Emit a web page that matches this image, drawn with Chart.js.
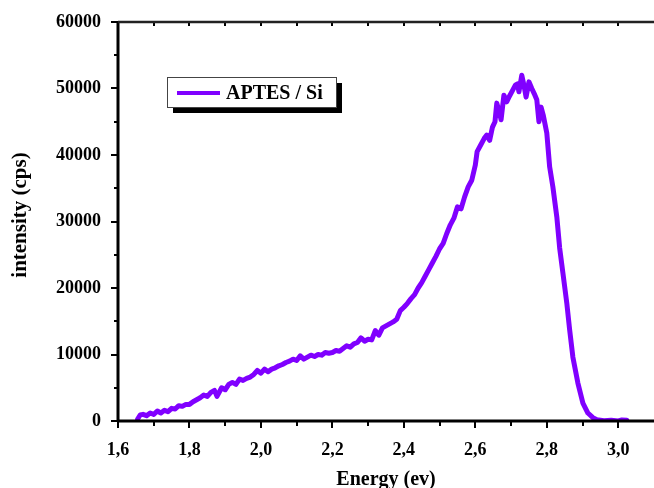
<!DOCTYPE html>
<html>
<head>
<meta charset="utf-8">
<script src="https://cdn.jsdelivr.net/npm/chart.js@4.4.1/dist/chart.umd.min.js"></script>
<style>
  html, body { margin: 0; padding: 0; background: #fff; }
  #wrap { width: 654px; height: 488px; }
</style>
</head>
<body>
<div id="wrap"><canvas id="myChart" width="654" height="488"></canvas></div>
<script>
// Données
const energyEv = [
  1.655, 1.662, 1.670, 1.680, 1.690, 1.700, 1.710, 1.720, 1.730, 1.740,
  1.750, 1.760, 1.770, 1.780, 1.790, 1.800, 1.810, 1.820, 1.830, 1.840,
  1.850, 1.860, 1.870, 1.877, 1.890, 1.900, 1.910, 1.920, 1.930, 1.940,
  1.950, 1.960, 1.970, 1.980, 1.990, 2.000, 2.010, 2.020, 2.030, 2.040,
  2.050, 2.060, 2.070, 2.080, 2.090, 2.100, 2.110, 2.120, 2.130, 2.140,
  2.150, 2.160, 2.170, 2.180, 2.190, 2.200, 2.210, 2.220, 2.230, 2.240,
  2.250, 2.260, 2.270, 2.280, 2.290, 2.300, 2.310, 2.320, 2.330, 2.340,
  2.350, 2.360, 2.370, 2.380, 2.390, 2.400, 2.410, 2.420, 2.430, 2.440,
  2.450, 2.460, 2.470, 2.480, 2.490, 2.500, 2.510, 2.520, 2.530, 2.540,
  2.550, 2.560, 2.570, 2.580, 2.590, 2.600, 2.605, 2.615, 2.625, 2.632,
  2.640, 2.648, 2.655, 2.660, 2.667, 2.672, 2.680, 2.688, 2.695, 2.705,
  2.712, 2.718, 2.722, 2.730, 2.736, 2.742, 2.750, 2.758, 2.765, 2.772,
  2.778, 2.784, 2.790, 2.800, 2.808, 2.817, 2.828, 2.836, 2.845, 2.856,
  2.864, 2.873, 2.887, 2.901, 2.915, 2.929, 2.940, 2.960, 2.980, 3.000,
  3.010, 3.024
];
const intensityCps = [
  300, 900, 1000, 800, 1200, 1000, 1500, 1200, 1600, 1400,
  1900, 1800, 2300, 2200, 2500, 2500, 2900, 3200, 3500, 3900,
  3700, 4300, 4600, 3700, 5000, 4700, 5500, 5800, 5500, 6300,
  6100, 6400, 6600, 7000, 7600, 7200, 7800, 7400, 7800, 8000,
  8300, 8500, 8800, 9000, 9300, 9100, 9800, 9300, 9600, 9900,
  9700, 10000, 9900, 10300, 10200, 10300, 10600, 10500, 10900, 11300,
  11100, 11600, 11800, 12500, 12000, 12300, 12200, 13600, 12900, 14000,
  14300, 14600, 14900, 15300, 16600, 17100, 17700, 18400, 19000, 20000,
  20800, 21800, 22800, 23800, 24800, 25900, 26700, 28200, 29500, 30500,
  32200, 31900, 33700, 35200, 36200, 38500, 40500, 41500, 42500, 43000,
  42200, 44200, 45000, 47800, 46500, 45300, 49000, 48000, 48800, 49800,
  50500, 50700, 49500, 52000, 50500, 48700, 51000, 50000, 49200, 48300,
  45000, 47200, 46000, 43300, 38200, 35200, 30700, 26000, 22300, 17700,
  13700, 9600, 5700, 2700, 1200, 500, 200, 50, 100, 0,
  150, 100
];
const xTickValues = [1.6, 1.8, 2.0, 2.2, 2.4, 2.6, 2.8, 3.0];
const yTickValues = [0, 10000, 20000, 30000, 40000, 50000, 60000];
const seriesName = 'APTES / Si';
const xTitle = 'Energy (ev)';
const yTitle = 'intensity (cps)';
const xMin = 1.6, xMax = 3.1;
const yMin = 0, yMax = 60000;

const lineColor = '#8000ff';
const serif = '"Liberation Serif", "Times New Roman", serif';

// Axes, graduations, titres et légende dessinés à la main
const framePlugin = {
  id: 'frame',
  afterDraw(chart) {
    const ctx = chart.ctx;
    const xs = chart.scales.x, ys = chart.scales.y;
    const a = chart.chartArea;
    ctx.save();
    ctx.strokeStyle = '#000';
    ctx.lineCap = 'butt';

    // graduations x (majeures + mineures à mi-chemin)
    ctx.lineWidth = 2;
    xTickValues.forEach((v, i) => {
      const marks = [[v, 7]];
      if (i < xTickValues.length - 1) marks.push([(v + xTickValues[i + 1]) / 2, 5]);
      marks.forEach(([val, len]) => {
        const px = Math.round(xs.getPixelForValue(val));
        ctx.beginPath();
        ctx.moveTo(px, a.bottom);
        ctx.lineTo(px, a.bottom + len);
        ctx.moveTo(px, a.top);
        ctx.lineTo(px, a.top + 4);
        ctx.stroke();
      });
    });
    // graduations y
    yTickValues.forEach((v, i) => {
      const marks = [[v, 7]];
      if (i < yTickValues.length - 1) marks.push([(v + yTickValues[i + 1]) / 2, 4]);
      marks.forEach(([val, len]) => {
        const py = Math.round(ys.getPixelForValue(val));
        ctx.beginPath();
        ctx.moveTo(a.left, py);
        ctx.lineTo(a.left - len, py);
        ctx.stroke();
      });
    });

    // lignes d'axes
    ctx.lineWidth = 3;
    ctx.beginPath();
    ctx.moveTo(a.left, a.top - 1);
    ctx.lineTo(a.left, a.bottom + 1);
    ctx.moveTo(a.left - 1, a.bottom);
    ctx.lineTo(chart.width, a.bottom);
    ctx.stroke();
    ctx.strokeStyle = '#222';
    ctx.lineWidth = 2.5;
    ctx.beginPath();
    ctx.moveTo(a.left, a.top);
    ctx.lineTo(chart.width, a.top);
    ctx.stroke();

    // titres
    ctx.fillStyle = '#000';
    ctx.font = 'bold 20px ' + serif;
    ctx.textAlign = 'center';
    ctx.textBaseline = 'middle';
    ctx.fillText(xTitle, (a.left + a.right) / 2, 480);
    ctx.save();
    ctx.translate(21, 215);
    ctx.rotate(-Math.PI / 2);
    ctx.font = 'bold 21px ' + serif;
    ctx.fillText(yTitle, 0, 0);
    ctx.restore();

    // légende avec ombre
    const lx = 167, ly = 77, lw = 169, lh = 30;
    ctx.fillStyle = '#000';
    ctx.fillRect(lx + 6, ly + 6, lw, lh);
    ctx.fillStyle = '#fff';
    ctx.fillRect(lx, ly, lw, lh);
    ctx.strokeStyle = '#444';
    ctx.lineWidth = 1;
    ctx.strokeRect(lx + 0.5, ly + 0.5, lw, lh);
    ctx.strokeStyle = lineColor;
    ctx.lineWidth = 4;
    ctx.beginPath();
    ctx.moveTo(177, ly + 16);
    ctx.lineTo(220, ly + 16);
    ctx.stroke();
    ctx.fillStyle = '#000';
    ctx.font = 'bold 20px ' + serif;
    ctx.textAlign = 'left';
    ctx.textBaseline = 'middle';
    ctx.fillText(seriesName, 226, ly + 17);
    ctx.restore();
  }
};

const ctx = document.getElementById('myChart').getContext('2d');
const myChart = new Chart(ctx, {
  type: 'line',
  data: {
    datasets: [{
      label: seriesName,
      data: energyEv.map((e, i) => ({ x: e, y: intensityCps[i] })),
      borderColor: lineColor,
      borderWidth: 5,
      borderJoinStyle: 'round',
      borderCapStyle: 'round',
      pointRadius: 0,
      tension: 0,
      fill: false
    }]
  },
  options: {
    responsive: false,
    animation: false,
    devicePixelRatio: 1,
    layout: { padding: { top: 22, right: 0, left: 0, bottom: 0 } },
    plugins: { legend: { display: false }, tooltip: { enabled: false } },
    scales: {
      x: {
        type: 'linear',
        min: xMin,
        max: xMax,
        afterBuildTicks: s => { s.ticks = xTickValues.map(v => ({ value: v })); },
        afterFit: s => { s.height = 67; },
        grid: { display: false },
        border: { display: false },
        ticks: {
          padding: 11,
          color: '#000',
          font: { family: serif, size: 18, weight: 'bold' },
          maxRotation: 0,
          autoSkip: false,
          callback: v => v.toFixed(1).replace('.', ',')
        }
      },
      y: {
        min: yMin,
        max: yMax,
        afterBuildTicks: s => { s.ticks = yTickValues.map(v => ({ value: v })); },
        afterFit: s => { s.width = 118; },
        grid: { display: false },
        border: { display: false },
        ticks: {
          padding: 9,
          color: '#000',
          font: { family: serif, size: 18, weight: 'bold' },
          callback: v => String(v)
        }
      }
    }
  },
  plugins: [framePlugin]
});
</script>
</body>
</html>
